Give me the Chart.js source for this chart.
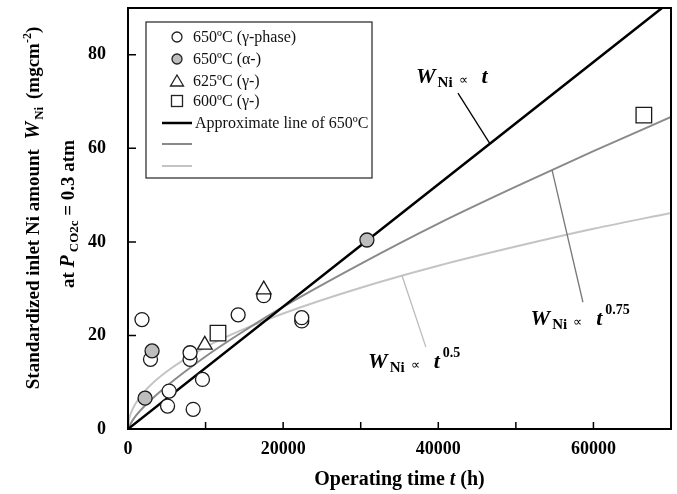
<!DOCTYPE html>
<html lang="en">
<head>
<meta charset="UTF-8">
<title>Standardized inlet Ni amount vs operating time</title>
<script src="https://cdn.jsdelivr.net/npm/chart.js"></script>
<style>
  html, body { margin: 0; padding: 0; background: #fff; }
  #wrap { width: 677px; height: 494px; }
</style>
</head>
<body>
<div id="wrap"><canvas id="niChart" width="677" height="494"></canvas></div>
<script>
// values (t in h, W in mg/cm2)
const gammaT = [1800, 2900, 5100, 5300, 8000, 8000, 8400, 9600, 14200, 17500, 22400, 22400];
const gammaW = [23.4, 14.9, 4.9, 8.1, 14.9, 16.3, 4.2, 10.6, 24.4, 28.5, 23.1, 23.8];
const alphaT = [2200, 3100, 30800];
const alphaW = [6.6, 16.7, 40.4];
const g625T = [9900, 17500];
const g625W = [18.0, 29.8];
const g600T = [11600, 66500];
const g600W = [20.5, 67.1];

// approximate lines
const linT = [0, 68840];
const linW = [0, 90];
const p075T = [0, 500, 1000, 2500, 5000, 10000, 15000, 20000, 30000, 40000, 50000, 60000, 70000];
const p075W = [0, 1.6, 2.8, 5.5, 9.2, 15.5, 21.0, 26.1, 35.3, 43.9, 51.8, 59.4, 66.7];
const p05T = [0, 100, 250, 500, 1000, 2500, 5000, 10000, 15000, 20000, 30000, 40000, 50000, 60000, 70000];
const p05W = [0, 1.7, 2.8, 3.9, 5.5, 8.7, 12.3, 17.5, 21.4, 24.7, 30.2, 34.9, 39.0, 42.8, 46.2];

const xTicks = [0, 10000, 20000, 30000, 40000, 50000, 60000, 70000];
const xTickLabels = ['0', '', '20000', '', '40000', '', '60000', ''];
const yTicks = [0, 20, 40, 60, 80];

const legendLabels = ['650ºC (γ-phase)', '650ºC (α-)', '625ºC (γ-)', '600ºC (γ-)', 'Approximate line of 650ºC', '', ''];

const SERIF = '"Liberation Serif", "Times New Roman", serif';
const pts = (xs, ys) => xs.map((x, i) => ({ x: x, y: ys[i] }));

function drawRich(ctx, x, y, parts) {
  let cx = x;
  parts.forEach(p => {
    ctx.font = p.f + ' ' + SERIF;
    cx += p.dx || 0;
    ctx.fillText(p.t, cx, y + (p.dy || 0));
    cx += ctx.measureText(p.t).width;
  });
}
function richWidth(ctx, parts) {
  let w = 0;
  parts.forEach(p => {
    ctx.font = p.f + ' ' + SERIF;
    w += (p.dx || 0) + ctx.measureText(p.t).width;
  });
  return w;
}

const decor = {
  id: 'decor',
  afterDraw(chart) {
    const ctx = chart.ctx;
    const a = chart.chartArea;
    const xs = chart.scales.x, ys = chart.scales.y;
    ctx.save();
    // frame
    ctx.strokeStyle = '#000';
    ctx.lineWidth = 2;
    ctx.strokeRect(a.left, a.top, a.right - a.left, a.bottom - a.top);
    // inward ticks
    ctx.lineWidth = 1.5;
    ctx.beginPath();
    xTicks.forEach(v => {
      const px = xs.getPixelForValue(v);
      ctx.moveTo(px, a.bottom); ctx.lineTo(px, a.bottom - 7);
    });
    yTicks.forEach(v => {
      const py = ys.getPixelForValue(v);
      ctx.moveTo(a.left, py); ctx.lineTo(a.left + 8, py);
    });
    ctx.stroke();

    // legend box
    ctx.fillStyle = '#fff';
    ctx.fillRect(146, 22, 226, 156);
    ctx.lineWidth = 1.2;
    ctx.strokeStyle = '#222';
    ctx.strokeRect(146, 22, 226, 156);
    const rows = [37, 59, 81, 101, 123, 144, 166];
    const mx = 177;
    ctx.lineWidth = 1.3;
    // circle open
    ctx.beginPath(); ctx.arc(mx, rows[0], 5, 0, Math.PI * 2); ctx.fillStyle = '#fff'; ctx.fill(); ctx.stroke();
    // circle gray
    ctx.beginPath(); ctx.arc(mx, rows[1], 5, 0, Math.PI * 2); ctx.fillStyle = '#bdbdbd'; ctx.fill(); ctx.stroke();
    // triangle
    ctx.beginPath();
    ctx.moveTo(mx, rows[2] - 6); ctx.lineTo(mx + 6.5, rows[2] + 5); ctx.lineTo(mx - 6.5, rows[2] + 5); ctx.closePath();
    ctx.fillStyle = '#fff'; ctx.fill(); ctx.stroke();
    // square
    ctx.strokeRect(mx - 5.5, rows[3] - 5.5, 11, 11);
    // line samples
    [['#000', 2.5], ['#8a8a8a', 2], ['#c4c4c4', 2]].forEach((s, i) => {
      ctx.strokeStyle = s[0]; ctx.lineWidth = s[1];
      ctx.beginPath(); ctx.moveTo(162, rows[4 + i]); ctx.lineTo(192, rows[4 + i]); ctx.stroke();
    });
    ctx.fillStyle = '#111';
    ctx.textBaseline = 'middle';
    ctx.textAlign = 'left';
    ctx.font = '16px ' + SERIF;
    legendLabels.forEach((t, i) => { if (t) ctx.fillText(t, i < 4 ? 193 : 195, rows[i] + 1); });

    // annotations with leader lines (anchored in data units)
    ctx.textBaseline = 'alphabetic';
    const P = (t, w) => [xs.getPixelForValue(t), ys.getPixelForValue(w)];
    const leader = (t1, w1, t2, w2, col) => {
      const p1 = P(t1, w1), p2 = P(t2, w2);
      ctx.strokeStyle = col; ctx.lineWidth = 1.3;
      ctx.beginPath(); ctx.moveTo(p1[0], p1[1]); ctx.lineTo(p2[0], p2[1]); ctx.stroke();
    };
    leader(42540, 71.8, 46650, 61.0, '#000');
    leader(54660, 55.4, 58650, 27.1, '#777');
    leader(35320, 32.8, 38400, 17.5, '#bbb');

    ctx.fillStyle = '#000';
    const ann = (t, w, exp) => {
      const p = P(t, w);
      const parts = [
        { t: 'W', f: 'italic bold 22px' },
        { t: 'Ni', f: 'bold 15px', dx: 2, dy: 4 },
        { t: '∝', f: '13px', dx: 6, dy: 1 },
        { t: 't', f: 'italic bold 22px', dx: 14, dy: 0 }
      ];
      drawRich(ctx, p[0], p[1], parts);
      if (exp) {
        const w0 = richWidth(ctx, parts);
        drawRich(ctx, p[0] + w0 + 3, p[1] - 11, [{ t: exp, f: 'bold 14px' }]);
      }
    };
    ann(37130, 74.0, '');
    ann(51900, 22.2, '0.75');
    ann(30950, 13.0, '0.5');

    // x axis title
    const xParts = [
      { t: 'Operating time ', f: 'bold 20px' },
      { t: 't', f: 'italic bold 20px' },
      { t: ' (h)', f: 'bold 20px' }
    ];
    const xw = richWidth(ctx, xParts);
    drawRich(ctx, (a.left + a.right) / 2 - xw / 2, 485, xParts);

    // y axis title (two rotated lines)
    const y1 = [
      { t: 'Standardized inlet Ni amount  ', f: 'bold 19px' },
      { t: 'W', f: 'italic bold 20px' },
      { t: 'Ni', f: 'bold 13px', dx: 2, dy: 4 },
      { t: ' (mgcm', f: 'bold 19px', dx: 3 },
      { t: '-2', f: 'bold 12px', dy: -8 },
      { t: ')', f: 'bold 19px' }
    ];
    const y2 = [
      { t: 'at ', f: 'bold 19px' },
      { t: 'P', f: 'italic bold 20px' },
      { t: 'CO2c', f: 'bold 13px', dx: 3, dy: 4 },
      { t: ' = 0.3 atm', f: 'bold 19px' }
    ];
    ctx.save();
    ctx.translate(39, 208);
    ctx.rotate(-Math.PI / 2);
    drawRich(ctx, -richWidth(ctx, y1) / 2, 0, y1);
    ctx.restore();
    ctx.save();
    ctx.translate(74, 214);
    ctx.rotate(-Math.PI / 2);
    drawRich(ctx, -richWidth(ctx, y2) / 2, 0, y2);
    ctx.restore();
    ctx.restore();
  }
};

const markerBase = { showLine: false, borderColor: '#1a1a1a', borderWidth: 1.3, order: 0 };
const lineBase = { type: 'line', pointRadius: 0, fill: false, cubicInterpolationMode: 'monotone', order: 5 };

new Chart(document.getElementById('niChart'), {
  type: 'scatter',
  data: {
    datasets: [
      Object.assign({}, lineBase, { label: 'Approximate line of 650ºC', data: pts(linT, linW), borderColor: '#000', borderWidth: 2.5 }),
      Object.assign({}, lineBase, { label: 't^0.75', data: pts(p075T, p075W), borderColor: '#8a8a8a', borderWidth: 2 }),
      Object.assign({}, lineBase, { label: 't^0.5', data: pts(p05T, p05W), borderColor: '#c4c4c4', borderWidth: 2 }),
      Object.assign({}, markerBase, { label: legendLabels[0], data: pts(gammaT, gammaW), pointStyle: 'circle', pointRadius: 7, backgroundColor: '#fff', order: 4 }),
      Object.assign({}, markerBase, { label: legendLabels[1], data: pts(alphaT, alphaW), pointStyle: 'circle', pointRadius: 7, backgroundColor: '#bdbdbd', order: 3 }),
      Object.assign({}, markerBase, { label: legendLabels[2], data: pts(g625T, g625W), pointStyle: 'triangle', pointRadius: 8.5, backgroundColor: '#fff', order: 2 }),
      Object.assign({}, markerBase, { label: legendLabels[3], data: pts(g600T, g600W), pointStyle: 'rect', pointRadius: 11, backgroundColor: '#fff', order: 1 })
    ]
  },
  options: {
    responsive: false,
    animation: false,
    layout: { autoPadding: false, padding: { top: 8, right: 6, left: 0, bottom: 0 } },
    plugins: { legend: { display: false }, tooltip: { enabled: false } },
    scales: {
      x: {
        type: 'linear', min: 0, max: 70000,
        grid: { display: false, drawTicks: false },
        border: { display: false },
        afterBuildTicks: s => { s.ticks = xTicks.map(v => ({ value: v })); },
        afterFit: s => { s.height = 65; s.paddingLeft = 0; s.paddingRight = 0; },
        ticks: {
          padding: 10, maxRotation: 0, autoSkip: false, color: '#000',
          font: { family: SERIF, size: 18, weight: 'bold' },
          callback: v => xTickLabels[xTicks.indexOf(v)]
        }
      },
      y: {
        type: 'linear', min: 0, max: 90,
        grid: { display: false, drawTicks: false },
        border: { display: false },
        afterBuildTicks: s => { s.ticks = yTicks.map(v => ({ value: v })); },
        afterFit: s => { s.width = 128; s.paddingTop = 0; s.paddingBottom = 0; },
        ticks: {
          padding: 22, color: '#000',
          font: { family: SERIF, size: 18, weight: 'bold' }
        }
      }
    }
  },
  plugins: [decor]
});
</script>
</body>
</html>
